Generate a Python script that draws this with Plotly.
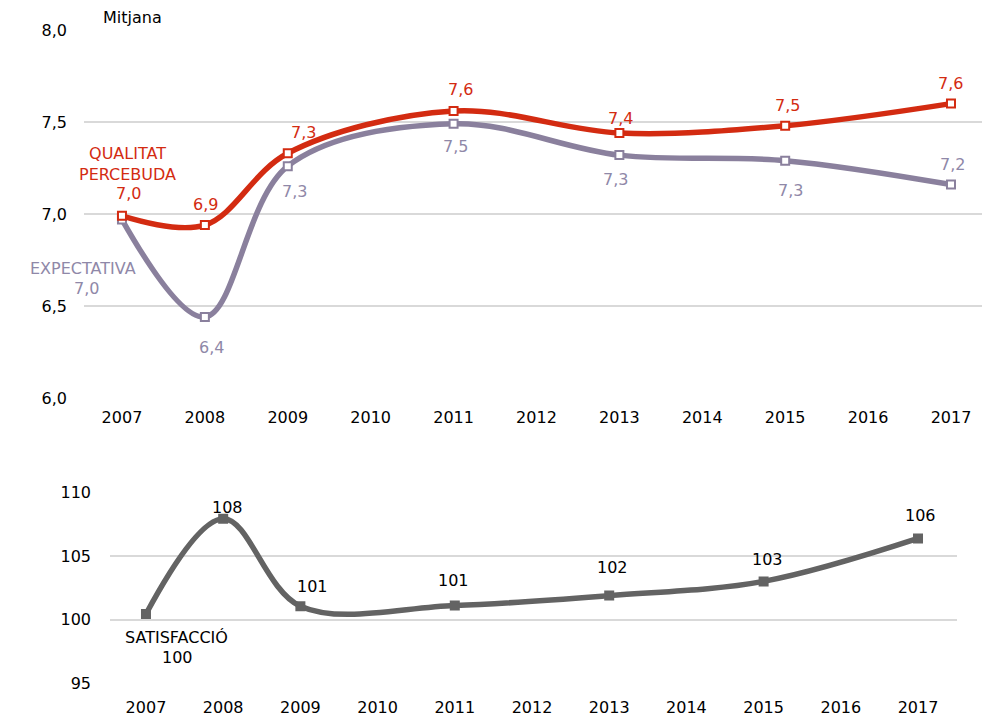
import plotly.graph_objects as go

# ---- data ----
years = ["2007", "2008", "2009", "2010", "2011", "2012", "2013", "2014", "2015", "2016", "2017"]
point_years = ["2007", "2008", "2009", "2011", "2013", "2015", "2017"]
qualitat = [6.99, 6.94, 7.33, 7.56, 7.44, 7.48, 7.60]
expectativa = [6.97, 6.44, 7.26, 7.49, 7.32, 7.29, 7.16]
satisfaccio = [100.45, 107.95, 101.07, 101.12, 101.90, 103.02, 106.40]
top_ticks = [6.0, 6.5, 7.0, 7.5, 8.0]
bottom_ticks = [95, 100, 105, 110]

# ---- styles ----
RED = "#D32B11"
PURPLE = "#8A809D"
PURPLE_TXT = "#8F88A8"
GRAY = "#636363"
GRID = "#D9D9D9"
FONT = "DejaVu Sans, Verdana, sans-serif"
FS = 16
W, H = 982, 720

xi = [years.index(y) for y in point_years]

fig = go.Figure()

fig.add_trace(go.Scatter(
    x=xi, y=expectativa, mode="lines+markers", line=dict(color=PURPLE, width=5.5, shape="spline", smoothing=1),
    marker=dict(symbol="square", size=8, color="white", line=dict(color=PURPLE, width=2)),
    xaxis="x", yaxis="y", showlegend=False, hoverinfo="skip"))
fig.add_trace(go.Scatter(
    x=xi, y=qualitat, mode="lines+markers", line=dict(color=RED, width=5.5, shape="spline", smoothing=1),
    marker=dict(symbol="square", size=8, color="white", line=dict(color=RED, width=2)),
    xaxis="x", yaxis="y", showlegend=False, hoverinfo="skip"))
fig.add_trace(go.Scatter(
    x=xi, y=satisfaccio, mode="lines+markers", line=dict(color=GRAY, width=5.5, shape="spline", smoothing=1),
    marker=dict(symbol="square", size=10, color=GRAY),
    xaxis="x2", yaxis="y2", showlegend=False, hoverinfo="skip"))

# label offsets (px): (dx, dy) with dy positive upward
off_q = [(7, 22), (1, 21), (16, 21), (7, 21), (1, 15), (2, 20), (0, 20)]
off_e = [(-35, -69), (7, -30), (7, -25), (2, -23), (-4, -24), (5, -30), (2, 20)]
off_s = [(32, -43), (4, 11), (12, 20), (-1, 25), (3, 28), (4, 22), (2, 23)]

ann = []
def fmt1(v):
    return f"{v:.1f}".replace(".", ",")
for x, v, (dx, dy) in zip(xi, qualitat, off_q):
    ann.append(dict(x=x, y=v, xref="x", yref="y", text=fmt1(v), showarrow=False, xshift=dx, yshift=dy,
                    borderpad=0, xanchor="center", yanchor="middle", font=dict(family=FONT, size=FS, color=RED)))
for x, v, (dx, dy) in zip(xi, expectativa, off_e):
    ann.append(dict(x=x, y=v, xref="x", yref="y", text=fmt1(v), showarrow=False, xshift=dx, yshift=dy,
                    borderpad=0, xanchor="center", yanchor="middle", font=dict(family=FONT, size=FS, color=PURPLE_TXT)))
for x, v, (dx, dy) in zip(xi, satisfaccio, off_s):
    ann.append(dict(x=x, y=v, xref="x2", yref="y2", text=f"{v:.0f}", showarrow=False, xshift=dx, yshift=dy,
                    borderpad=0, xanchor="center", yanchor="middle", font=dict(family=FONT, size=FS, color="black")))

def px(x):
    return x / W
def py(y):
    return 1 - y / H

ann += [
    dict(x=px(127), y=py(164), xref="paper", yref="paper", text="QUALITAT<br>PERCEBUDA", showarrow=False,
         borderpad=0, xanchor="center", yanchor="middle", font=dict(family=FONT, size=FS, color=RED), align="center"),
    dict(x=px(83), y=py(268), xref="paper", yref="paper", text="EXPECTATIVA", showarrow=False,
         borderpad=0, xanchor="center", yanchor="middle", font=dict(family=FONT, size=FS, color=PURPLE_TXT)),
    dict(x=px(176), y=py(637), xref="paper", yref="paper", text="SATISFACCIÓ", showarrow=False,
         borderpad=0, xanchor="center", yanchor="middle", font=dict(family=FONT, size=FS, color="black")),
    dict(x=px(132), y=py(17), xref="paper", yref="paper", text="Mitjana", showarrow=False,
         borderpad=0, xanchor="center", yanchor="middle", font=dict(family=FONT, size=FS, color="black")),
]

tickfont = dict(family=FONT, size=FS, color="black")
common_x = dict(tickmode="array", tickvals=list(range(len(years))), ticktext=years, showgrid=False,
                zeroline=False, showline=False, ticks="", tickfont=tickfont, automargin=False, fixedrange=True)
common_y = dict(showgrid=True, gridcolor=GRID, gridwidth=2, zeroline=False, showline=False, ticks="",
                tickfont=tickfont, automargin=False, fixedrange=True)

fig.update_layout(
    width=W, height=H, margin=dict(l=0, r=0, t=0, b=0, pad=0),
    paper_bgcolor="white", plot_bgcolor="white",
    xaxis=dict(common_x, domain=[px(84), 1.0], range=[-0.458, 10.374], anchor="y", ticklabelstandoff=8),
    yaxis=dict(common_y, domain=[py(398), py(30)], range=[6.0, 8.0], tickvals=top_ticks,
               ticktext=[fmt1(t) for t in top_ticks], anchor="x", ticklabelstandoff=16),
    xaxis2=dict(common_x, domain=[px(110), px(957)], range=[-0.466, 10.505], anchor="y2", ticklabelstandoff=13),
    yaxis2=dict(common_y, domain=[py(683.3), py(492.7)], range=[95, 110], tickvals=bottom_ticks,
                ticktext=[str(t) for t in bottom_ticks], anchor="x2", ticklabelstandoff=18),
    annotations=ann,
)

fig.write_html("out.html", config={"displayModeBar": False},
               post_script="document.body.style.margin='0';")
